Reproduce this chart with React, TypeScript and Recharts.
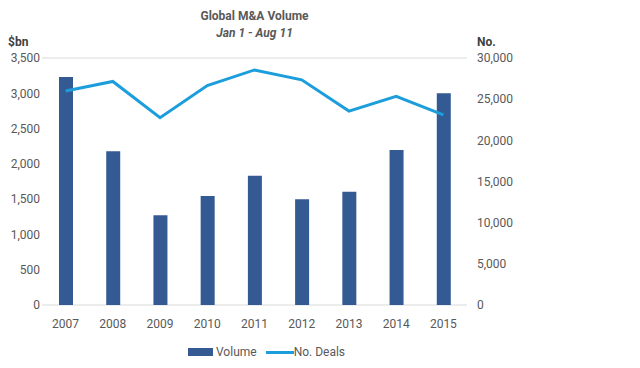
import { Bar, CartesianGrid, ComposedChart, Legend, Line, XAxis, YAxis } from "recharts";

const YEARS = ["2007", "2008", "2009", "2010", "2011", "2012", "2013", "2014", "2015"];
const VOLUME = [3230, 2180, 1270, 1545, 1830, 1500, 1605, 2195, 3000];
const DEALS = [26000, 27150, 22750, 26650, 28550, 27350, 23550, 25350, 23100];
const LEFT_TICKS = [0, 500, 1000, 1500, 2000, 2500, 3000, 3500];
const RIGHT_TICKS = [0, 5000, 10000, 15000, 20000, 25000, 30000];

const FONT = "Roboto, 'Liberation Sans', sans-serif";
const TEXT = "#595959";
const BAR_COLOR = "#335a93";
const LINE_COLOR = "#1c9ddc";

const data = YEARS.map((year, i) => ({ year, volume: VOLUME[i], deals: DEALS[i] }));

const fmt = (v: number) => new Intl.NumberFormat("en-US").format(v);

function ChartLegend() {
  return (
    <div style={{ display: "flex", alignItems: "center", fontFamily: FONT, fontSize: 12, color: TEXT, paddingLeft: 188 }}>
      <span style={{ display: "inline-block", width: 25, height: 8, background: BAR_COLOR, marginRight: 3 }} />
      <span style={{ marginRight: 9 }}>Volume</span>
      <span style={{ display: "inline-block", width: 28, height: 3, background: LINE_COLOR }} />
      <span>No. Deals</span>
    </div>
  );
}

export default function App() {
  return (
    <div style={{ position: "absolute", left: 0, top: 0, width: 640, height: 368, background: "#fff", fontFamily: FONT }}>
      <div style={{ position: "absolute", left: 0, width: 509, top: 8, textAlign: "center", color: TEXT, fontWeight: 700, fontSize: 12, lineHeight: "16px" }}>
        Global M&amp;A Volume
      </div>
      <div style={{ position: "absolute", left: 0, width: 509, top: 25, textAlign: "center", color: TEXT, fontWeight: 700, fontStyle: "italic", fontSize: 12, lineHeight: "16px" }}>
        Jan 1 - Aug 11
      </div>
      <div style={{ position: "absolute", left: 8, top: 35, color: "#404040", fontWeight: 700, fontSize: 12 }}>$bn</div>
      <div style={{ position: "absolute", left: 477, top: 35, color: "#404040", fontWeight: 700, fontSize: 12 }}>No.</div>
      <ComposedChart width={640} height={368} data={data} margin={{ top: 58, right: 0, bottom: 13, left: 0 }}>
        <CartesianGrid vertical={false} stroke="#d9d9d9" />
        <XAxis
          dataKey="year"
          axisLine={false}
          tickLine={false}
          tickSize={0}
          tickMargin={14}
          height={30}
          tick={{ fill: TEXT, fontSize: 12, fontFamily: FONT }}
        />
        <YAxis
          yAxisId="left"
          domain={[0, 3500]}
          ticks={LEFT_TICKS}
          tickFormatter={fmt}
          width={42}
          axisLine={false}
          tickLine={false}
          tickSize={0}
          tickMargin={2}
          tick={{ fill: TEXT, fontSize: 12, fontFamily: FONT }}
        />
        <YAxis
          yAxisId="right"
          orientation="right"
          domain={[0, 30000]}
          ticks={RIGHT_TICKS}
          tickFormatter={fmt}
          width={173}
          axisLine={false}
          tickLine={false}
          tickSize={0}
          tickMargin={10}
          tick={{ fill: TEXT, fontSize: 12, fontFamily: FONT, textAnchor: "start" }}
        />
        <Bar yAxisId="left" dataKey="volume" name="Volume" fill={BAR_COLOR} barSize={14} isAnimationActive={false} />
        <Line
          yAxisId="right"
          dataKey="deals"
          name="No. Deals"
          type="linear"
          stroke={LINE_COLOR}
          strokeWidth={3}
          dot={false}
          activeDot={false}
          isAnimationActive={false}
        />
        <Legend height={20} content={<ChartLegend />} wrapperStyle={{ top: 345, left: 0, width: 640 }} />
      </ComposedChart>
    </div>
  );
}
